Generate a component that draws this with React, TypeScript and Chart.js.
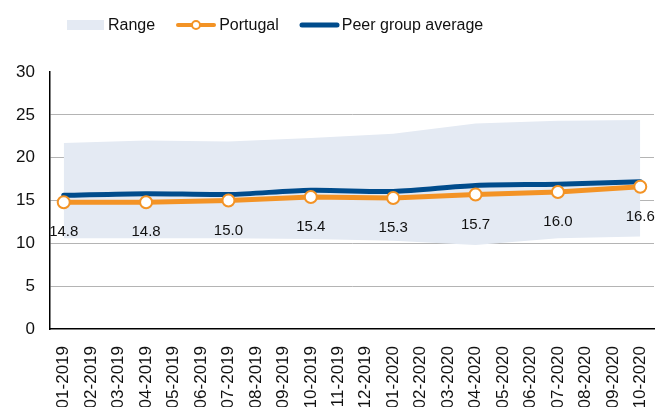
import { useEffect, useRef } from 'react';
import { Chart, registerables } from 'chart.js';

Chart.register(...registerables);

const months = [
  '01-2019', '02-2019', '03-2019', '04-2019', '05-2019', '06-2019', '07-2019', '08-2019',
  '09-2019', '10-2019', '11-2019', '12-2019', '01-2020', '02-2020', '03-2020', '04-2020',
  '05-2020', '06-2020', '07-2020', '08-2020', '09-2020', '10-2020',
];
// observations are quarterly
const quarters = ['01-2019', '04-2019', '07-2019', '10-2019', '01-2020', '04-2020', '07-2020', '10-2020'];
const rangeHigh = [21.7, 22.0, 21.9, 22.3, 22.8, 24.0, 24.3, 24.4];
const rangeLow = [10.6, 10.6, 10.6, 10.5, 10.3, 9.8, 10.6, 10.8];
const peerAverage = [15.6, 15.8, 15.7, 16.2, 16.05, 16.75, 16.9, 17.2];
const portugal = [14.8, 14.8, 15.0, 15.4, 15.3, 15.7, 16.0, 16.6];
const yTicks = [0, 5, 10, 15, 20, 25, 30];

const FONT = '"Liberation Sans", Arial, sans-serif';
const ORANGE = '#F39325';
const BLUE = '#004C8C';
const BAND = '#E4EAF3';
const TEXT = '#111111';

const pts = (vals: number[]) => quarters.map((q, i) => ({ x: q, y: vals[i] }));

// value labels under the Portugal markers
const valueLabels = {
  id: 'valueLabels',
  afterDatasetsDraw(chart: Chart) {
    const meta = chart.getDatasetMeta(3);
    const ctx = chart.ctx;
    ctx.save();
    ctx.font = `15px ${FONT}`;
    ctx.fillStyle = TEXT;
    ctx.textAlign = 'center';
    ctx.textBaseline = 'middle';
    meta.data.forEach((el, i) => {
      ctx.fillText(portugal[i].toFixed(1), el.x, el.y + 30);
    });
    ctx.restore();
  },
};

function Legend() {
  const item = { display: 'flex', alignItems: 'center' } as const;
  const text = { fontSize: 16, color: TEXT, lineHeight: '18px' } as const;
  return (
    <div style={{ position: 'absolute', left: 67, top: 16, display: 'flex', alignItems: 'center', fontFamily: FONT }}>
      <div style={{ ...item, marginRight: 21 }}>
        <div style={{ width: 37, height: 10, background: BAND, marginRight: 4 }} />
        <span style={text}>Range</span>
      </div>
      <div style={{ ...item, marginRight: 20 }}>
        <svg width="40" height="12" style={{ marginRight: 3 }}>
          <line x1="2" y1="6" x2="38" y2="6" stroke={ORANGE} strokeWidth="4" strokeLinecap="round" />
          <circle cx="20" cy="6" r="4" fill="#fff" stroke={ORANGE} strokeWidth="2" />
        </svg>
        <span style={text}>Portugal</span>
      </div>
      <div style={item}>
        <svg width="41" height="12" style={{ marginRight: 2 }}>
          <line x1="3" y1="6" x2="38" y2="6" stroke={BLUE} strokeWidth="5" strokeLinecap="round" />
        </svg>
        <span style={text}>Peer group average</span>
      </div>
    </div>
  );
}

export default function App() {
  const canvasRef = useRef<HTMLCanvasElement>(null);

  useEffect(() => {
    if (!canvasRef.current) return;
    const chart = new Chart(canvasRef.current, {
      type: 'line',
      data: {
        labels: months,
        datasets: [
          { label: 'Range', data: pts(rangeHigh), fill: '+1', backgroundColor: BAND, borderWidth: 0, pointRadius: 0, order: 4 },
          { label: 'Range low', data: pts(rangeLow), fill: false, borderWidth: 0, pointRadius: 0, order: 5 },
          {
            label: 'Peer group average', data: pts(peerAverage), borderColor: BLUE, borderWidth: 5,
            borderCapStyle: 'round', pointRadius: 0, tension: 0.3, fill: false, order: 2,
          },
          {
            label: 'Portugal', data: pts(portugal), borderColor: ORANGE, borderWidth: 5, fill: false,
            pointRadius: 6, pointBorderWidth: 2, pointBackgroundColor: '#ffffff', pointBorderColor: ORANGE, order: 1,
          },
        ],
      },
      options: {
        animation: false,
        responsive: true,
        maintainAspectRatio: false,
        layout: { autoPadding: false, padding: { top: 72, right: 4, left: 0, bottom: 0 } },
        plugins: { legend: { display: false }, tooltip: { enabled: false } },
        scales: {
          x: {
            type: 'category',
            offset: true,
            grid: { display: false },
            border: { display: true, color: '#000', width: 1.5 },
            ticks: { minRotation: 90, maxRotation: 90, autoSkip: false, color: TEXT, padding: 9, font: { family: FONT, size: 17 } },
            afterFit: (s: any) => { s.height = 78; s.paddingLeft = 0; s.paddingRight = 0; },
          },
          y: {
            min: 0,
            max: 30,
            afterBuildTicks: (s: any) => { s.ticks = yTicks.map((v) => ({ value: v })); },
            grid: {
              drawTicks: false,
              color: (c: any) => (c.tick && (c.tick.value === 30 || c.tick.value === 0) ? 'rgba(0,0,0,0)' : '#B4B4B4'),
            },
            border: { display: true, color: '#000', width: 1.5 },
            ticks: { color: TEXT, padding: 15, font: { family: FONT, size: 17 } },
            afterFit: (s: any) => { s.width = 50; s.paddingTop = 0; s.paddingBottom = 0; },
          },
        },
      },
      plugins: [valueLabels],
    });
    return () => { chart.destroy(); };
  }, []);

  return (
    <div style={{ position: 'absolute', left: 0, top: 0, width: 658, height: 407, background: '#fff', overflow: 'hidden' }}>
      <canvas ref={canvasRef} />
      <Legend />
    </div>
  );
}
